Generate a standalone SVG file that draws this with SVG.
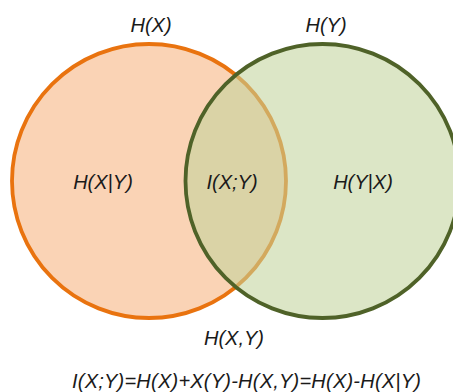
<svg xmlns="http://www.w3.org/2000/svg" width="453" height="392" viewBox="0 0 453 392">
  <style>
    .lbl { font-family: "Liberation Sans", Arial, sans-serif; font-style: italic; font-size: 20px; fill: #1a1a1a; text-anchor: middle; }
    .setx { fill: #FAD3B5; stroke: #E9730F; stroke-width: 3.8; }
    .sety { fill: rgb(194,211,155); fill-opacity: 0.57; stroke: none; }
    .sety-edge { fill: none; stroke: #4F6228; stroke-width: 3.8; }
  </style>
  <rect width="453" height="392" fill="#ffffff"/>

  <!-- Set X -->
  <g id="set-x">
    <circle class="setx" cx="149" cy="181" r="137"/>
    <text class="lbl" x="151" y="32">H(X)</text>
    <text class="lbl" x="103" y="189">H(X|Y)</text>
  </g>

  <!-- Set Y, translucent fill over X -->
  <g id="set-y">
    <circle class="sety" cx="322.5" cy="181" r="137"/>
    <circle class="sety-edge" cx="322.5" cy="181" r="137"/>
    <text class="lbl" x="326" y="32">H(Y)</text>
    <text class="lbl" x="363" y="189">H(Y|X)</text>
  </g>

  <!-- Overlap -->
  <g id="mutual-information">
    <text class="lbl" x="232" y="189">I(X;Y)</text>
  </g>

  <g id="joint-entropy">
    <text class="lbl" x="234" y="345">H(X,Y)</text>
  </g>

  <g id="formula">
    <text class="lbl" x="246.5" y="388" textLength="349" lengthAdjust="spacing">I(X;Y)=H(X)+X(Y)-H(X,Y)=H(X)-H(X|Y)</text>
  </g>

  <g id="connectors"></g>
</svg>
